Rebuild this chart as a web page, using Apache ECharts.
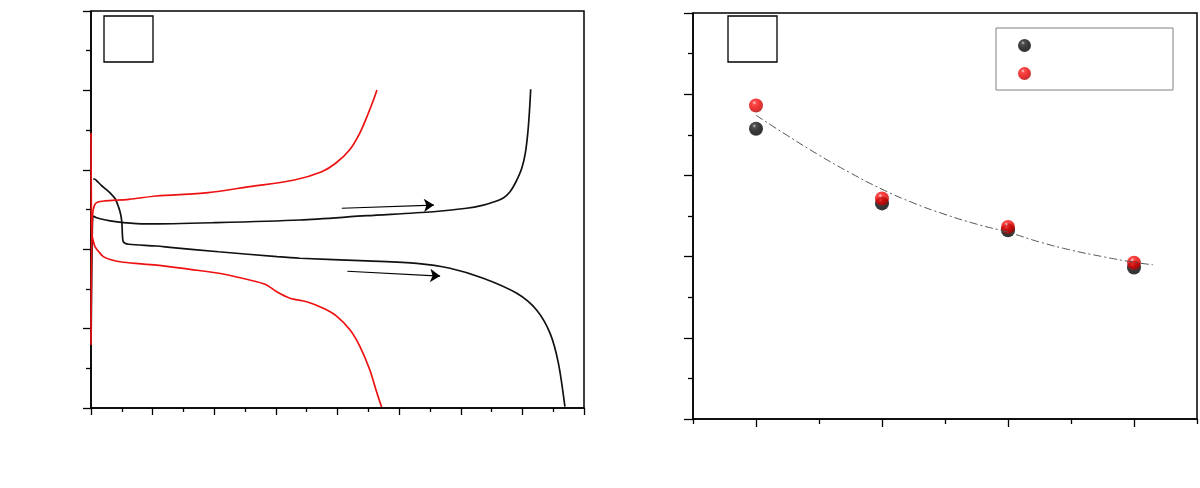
<!DOCTYPE html>
<html>
<head>
<meta charset="utf-8">
<script src="https://cdn.jsdelivr.net/npm/echarts@6/dist/echarts.min.js"></script>
<style>
html,body{margin:0;padding:0;background:#fff;}
#chart{width:1200px;height:488px;}
</style>
</head>
<body>
<div id="chart"></div>
<script>
// ---- Left panel: voltage profiles (x: capacity, y: voltage) ----
const redChargeCurve = [
  [0,0.397],[1.6,0.932],[4.9,1.215],[11.4,1.278],[22.4,1.297],[44.8,1.304],[123,1.314],
  [212,1.335],[380,1.356],[515,1.394],[660,1.436],[749,1.488],[794,1.541],[839,1.625],
  [872,1.730],[900,1.856],[917,1.941],[928,2.003]
];
const redDischargeCurve = [
  [0,1.732],[1.0,1.310],[2.3,1.100],[6.5,1.058],[13,1.016],[26,0.982],[40,0.953],[62,0.935],
  [105,0.918],[213,0.900],[321,0.873],[429,0.844],[538,0.795],[570,0.775],[603,0.732],
  [646,0.691],[700,0.669],[754,0.628],[797,0.579],[841,0.491],[873,0.386],[905,0.239],
  [925,0.113],[943,0.006]
];
const blackDischargeCurve = [
  [7.5,1.440],[11.4,1.442],[19.5,1.429],[32.5,1.404],[51,1.373],[65,1.348],[78,1.319],
  [89,1.268],[96,1.222],[100,1.171],[102,1.089],[104,1.052],[110,1.037],[123,1.031],
  [213,1.020],[256,1.012],[414,0.984],[604,0.953],[678,0.943],[895,0.926],[1057,0.911],
  [1165,0.880],[1273,0.817],[1382,0.722],[1446,0.617],[1490,0.470],[1517,0.281],[1538,0.008]
];
const blackChargeCurve = [
  [0,0.353],[1.6,0.680],[4.2,1.121],[7.5,1.209],[16,1.200],[32.5,1.190],[62,1.178],
  [105,1.167],[178,1.159],[402,1.167],[678,1.184],[895,1.211],[1111,1.236],[1219,1.258],
  [1270,1.276],[1306,1.297],[1338,1.323],[1360,1.362],[1378,1.420],[1398,1.510],
  [1410,1.610],[1418,1.740],[1423,1.870],[1427,2.007]
];
const arrows = [
  [[814,1.258],[1113,1.278]],
  [[832,0.861],[1133,0.831]]
];

// ---- Right panel: values vs category position ----
const xPositions = [1,2,3,4];
const blackValues = [71.5,53.1,46.5,37.3];
const redValues = [77.2,54.3,47.3,38.5];
const fitX = [1.0,1.25,1.5,1.75,2.0,2.25,2.5,2.75,3.0,3.25,3.5,3.75,4.0,4.15];
const fitY = [74.8,69.8,65.0,60.6,56.6,53.2,50.4,48.0,46.0,43.6,41.6,40.0,38.6,38.0];
const majorXTicks = [1,2,3,4];
const minorXTicks = [0.5,1.5,2.5,3.5,4.5];

const sphere = (hi, mid, dark, edge) => ({
  type:'radial', x:0.38, y:0.3, r:0.72,
  colorStops:[{offset:0,color:hi},{offset:0.2,color:mid},{offset:0.6,color:dark},{offset:1,color:edge}]
});
const blackSphere = sphere('#b0b0b0','#222222','#050505','#000000');
const redSphere = sphere('#ffd0d0','#ff1a1a','#e60000','#b00000');

const axisLineStyle = {color:'#000', width:1.5};
const chart = echarts.init(document.getElementById('chart'));
chart.setOption({
  animation:false,
  backgroundColor:'#fff',
  grid:[
    {left:91, top:11, width:493, height:397, show:true, borderColor:'#000', borderWidth:1.5, containLabel:false},
    {left:693, top:13, width:504, height:406, show:true, borderColor:'#000', borderWidth:1.5, containLabel:false}
  ],
  xAxis:[
    {gridIndex:0, type:'value', min:0, max:1600, interval:200,
     axisLine:{show:true, onZero:false, lineStyle:axisLineStyle},
     axisTick:{show:true, length:7, lineStyle:{color:'#000', width:1.3}},
     minorTick:{show:true, splitNumber:2, length:4, lineStyle:{color:'#000', width:1.3}},
     axisLabel:{show:false}, splitLine:{show:false}},
    {gridIndex:1, type:'value', min:0.5, max:4.5, position:'bottom',
     axisLine:{show:true, onZero:false, lineStyle:axisLineStyle},
     axisTick:{show:true, customValues:majorXTicks, length:8, lineStyle:{color:'#000', width:1.3}},
     axisLabel:{show:false}, splitLine:{show:false}},
    {gridIndex:1, type:'value', min:0.5, max:4.5, position:'bottom',
     axisLine:{show:false},
     axisTick:{show:true, customValues:minorXTicks, length:5, lineStyle:{color:'#000', width:1.3}},
     axisLabel:{show:false}, splitLine:{show:false}}
  ],
  yAxis:[
    {gridIndex:0, type:'value', min:0, max:2.5, interval:0.5,
     axisLine:{show:true, onZero:false, lineStyle:axisLineStyle},
     axisTick:{show:true, length:8, lineStyle:{color:'#000', width:1.3}},
     minorTick:{show:true, splitNumber:2, length:5, lineStyle:{color:'#000', width:1.3}},
     axisLabel:{show:false}, splitLine:{show:false}},
    {gridIndex:1, type:'value', min:0, max:100, interval:20,
     axisLine:{show:true, onZero:false, lineStyle:axisLineStyle},
     axisTick:{show:true, length:9, lineStyle:{color:'#000', width:1.3}},
     minorTick:{show:true, splitNumber:2, length:5, lineStyle:{color:'#000', width:1.3}},
     axisLabel:{show:false}, splitLine:{show:false}}
  ],
  legend:{
    data:['Sample 1','Sample 2'],
    orient:'vertical', left:996, top:28,
    padding:[11,142,10,22], itemGap:15, itemWidth:13, itemHeight:13,
    borderColor:'#808080', borderWidth:1, backgroundColor:'#fff',
    formatter:function(){return '';},
    textStyle:{fontSize:1}
  },
  graphic:[
    {type:'rect', shape:{x:104, y:16, width:49, height:46}, style:{fill:'none', stroke:'#000', lineWidth:1.3}},
    {type:'rect', shape:{x:728, y:16, width:49, height:46}, style:{fill:'none', stroke:'#000', lineWidth:1.3}}
  ],
  series:[
    {type:'line', xAxisIndex:0, yAxisIndex:0, data:blackChargeCurve, showSymbol:false, smooth:0.3,
     lineStyle:{color:'#111', width:1.7}},
    {type:'line', xAxisIndex:0, yAxisIndex:0, data:blackDischargeCurve, showSymbol:false, smooth:0.3,
     lineStyle:{color:'#111', width:1.7},
     markLine:{silent:true, symbol:['none','arrow'], symbolSize:10, label:{show:false},
       lineStyle:{color:'#000', width:1.2, type:'solid'},
       data:arrows.map(a => [{coord:a[0]},{coord:a[1]}])}},
    {type:'line', xAxisIndex:0, yAxisIndex:0, data:redChargeCurve, showSymbol:false, smooth:0.3,
     lineStyle:{color:'#ee1111', width:1.7}},
    {type:'line', xAxisIndex:0, yAxisIndex:0, data:redDischargeCurve, showSymbol:false, smooth:0.3,
     lineStyle:{color:'#ee1111', width:1.7}},
    {type:'line', xAxisIndex:1, yAxisIndex:1, data:fitX.map((x,i)=>[x,fitY[i]]), showSymbol:false, smooth:true,
     lineStyle:{color:'#555', width:1, type:[8,3,2,3]}},
    {name:'Sample 1', type:'scatter', xAxisIndex:1, yAxisIndex:1, symbol:'circle', symbolSize:14,
     data:xPositions.map((x,i)=>[x,blackValues[i]]), itemStyle:{color:blackSphere}},
    {name:'Sample 2', type:'scatter', xAxisIndex:1, yAxisIndex:1, symbol:'circle', symbolSize:14,
     data:xPositions.map((x,i)=>[x,redValues[i]]), itemStyle:{color:redSphere}}
  ]
});
</script>
</body>
</html>
